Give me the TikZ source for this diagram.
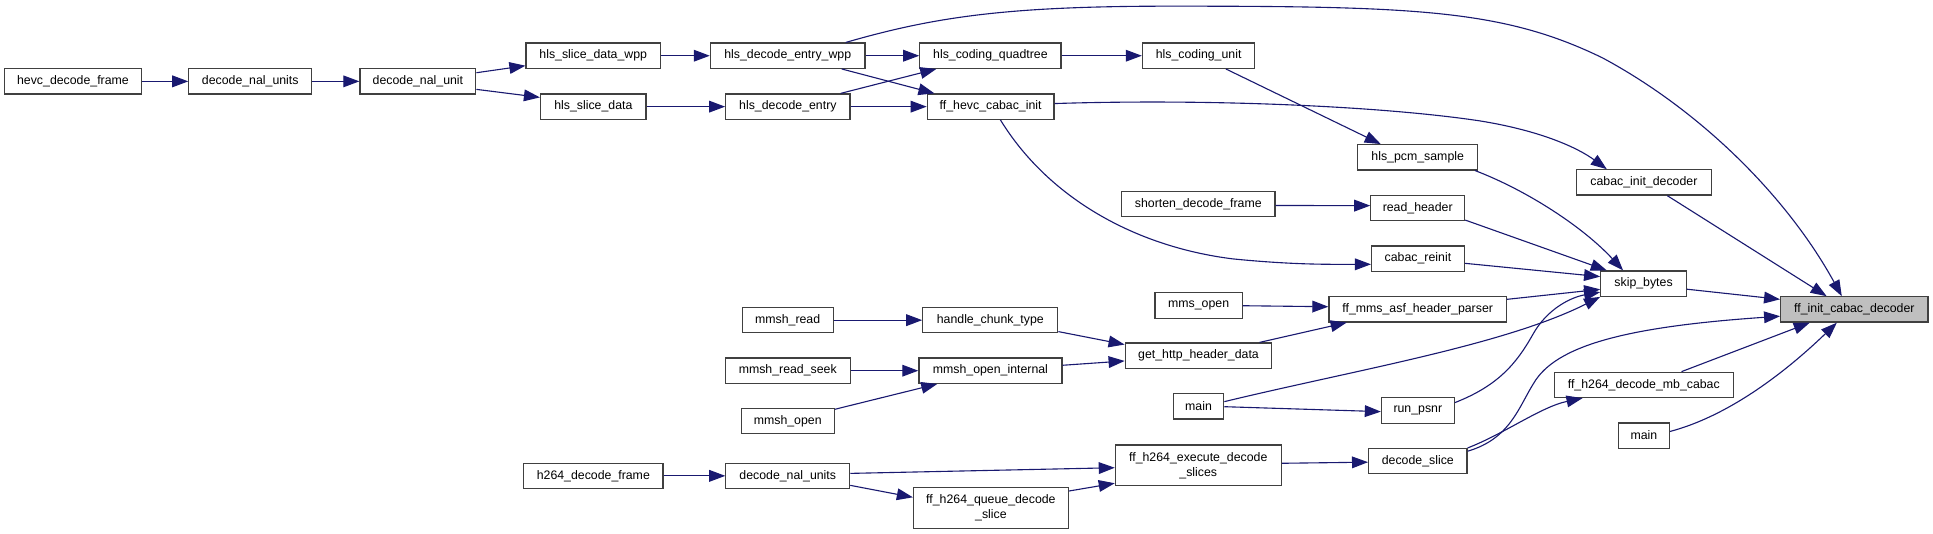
\documentclass[tikz,border=0pt]{standalone}
\usepackage{fontspec}
\setmainfont{Liberation Sans}
\usetikzlibrary{arrows.meta}
\definecolor{edgec}{HTML}{191970}
\definecolor{boxc}{HTML}{404040}
\definecolor{hlc}{HTML}{BFBFBF}
\tikzset{
  box/.style={draw=boxc, line width=1pt, fill=white, inner sep=0pt, minimum height=20.5pt, font=\fontsize{10}{12}\selectfont, align=center},
  twoline/.style={box, minimum height=33pt},
  hl/.style={box, fill=hlc},
  call/.style={draw=edgec, line width=0.9pt, arrows={-Triangle[length=13pt,width=9.5pt,fill=edgec]}},
}
\begin{document}
\begin{tikzpicture}[x=1pt,y=-1pt]
\useasboundingbox[fill=white] (0,0) rectangle (1568,433);
% nodes
\node[box,minimum width=111pt] (hdf) at (59.2,66) {hevc\_decode\_frame};
\node[box,minimum width=99.6pt] (dnus) at (203,66) {decode\_nal\_units};
\node[box,minimum width=94pt] (dnu) at (339,66) {decode\_nal\_unit};
\node[box,minimum width=109pt] (hsdw) at (481.2,45.2) {hls\_slice\_data\_wpp};
\node[box,minimum width=85.6pt] (hsd) at (481.3,86.5) {hls\_slice\_data};
\node[box,minimum width=125.5pt] (hdew) at (639,45.2) {hls\_decode\_entry\_wpp};
\node[box,minimum width=100.8pt] (hde) at (639.1,86.5) {hls\_decode\_entry};
\node[box,minimum width=114.5pt] (hcq) at (803.4,45.2) {hls\_coding\_quadtree};
\node[box,minimum width=102.8pt] (fhci) at (803.6,86.5) {ff\_hevc\_cabac\_init};
\node[box,minimum width=91.2pt] (hcu) at (972.3,45.2) {hls\_coding\_unit};
\node[box,minimum width=97.3pt] (hps) at (1150,127.6) {hls\_pcm\_sample};
\node[box,minimum width=109.4pt] (cid) at (1333.5,148) {cabac\_init\_decoder};
\node[box,minimum width=124.3pt] (sdf) at (972,165.5) {shorten\_decode\_frame};
\node[box,minimum width=76pt] (rh) at (1150,168.9) {read\_header};
\node[box,minimum width=75.2pt] (cr) at (1150.2,209.8) {cabac\_reinit};
\node[box,minimum width=69.5pt] (sb) at (1333.2,230.1) {skip\_bytes};
\node[hl,minimum width=119.5pt] (fic) at (1504.2,251) {ff\_init\_cabac\_decoder};
\node[box,minimum width=70.8pt] (mo) at (972.3,247.8) {mms\_open};
\node[box,minimum width=144pt] (fmahp) at (1150,250.9) {ff\_mms\_asf\_header\_parser};
\node[box,minimum width=73.8pt] (mr) at (638.9,259.7) {mmsh\_read};
\node[box,minimum width=109.5pt] (hct) at (803.3,259.7) {handle\_chunk\_type};
\node[box,minimum width=118.9pt] (ghhd) at (972.2,288.5) {get\_http\_header\_data};
\node[box,minimum width=101.5pt] (mrs) at (639,300.7) {mmsh\_read\_seek};
\node[box,minimum width=116pt] (moi) at (803.4,300.7) {mmsh\_open\_internal};
\node[box,minimum width=40.9pt] (mainA) at (972.2,329.6) {main};
\node[box,minimum width=59pt] (rp) at (1150.1,333) {run\_psnr};
\node[box,minimum width=145pt] (fhdmc) at (1333.4,312.2) {ff\_h264\_decode\_mb\_cabac};
\node[box,minimum width=41.3pt] (mainB) at (1333.5,353.3) {main};
\node[box,minimum width=75.5pt] (mopen) at (639,341.5) {mmsh\_open};
\node[box,minimum width=113pt] (h2df) at (481.3,386) {h264\_decode\_frame};
\node[box,minimum width=100.4pt] (dnub) at (639,386) {decode\_nal\_units};
\node[twoline,minimum width=134.5pt] (fheds) at (972,377.5) {ff\_h264\_execute\_decode\\\_slices};
\node[box,minimum width=79.8pt] (ds) at (1150.1,374.1) {decode\_slice};
\node[twoline,minimum width=125.6pt] (fhqds) at (803.8,412) {ff\_h264\_queue\_decode\\\_slice};
% edges
\draw[call] (hdf) -- (dnus);
\draw[call] (dnus) -- (dnu);
\draw[call] (dnu.east |- 0,59) -- (hsdw.west |- 0,53.3);
\draw[call] (dnu.east |- 0,72.5) -- (hsd.west |- 0,79);
\draw[call] (hsdw) -- (hdew);
\draw[call] (hsd) -- (hde);
\draw[call] (hdew) -- (hcq);
\draw[call] (hdew.south -| 682.8,0) -- (fhci.north -| 758,0);
\draw[call] (hde.north -| 681.9,0) -- (hcq.south -| 759.5,0);
\draw[call] (hde) -- (fhci);
\draw[call] (hdew.north -| 686,0) .. controls (760,13) and (820,5) .. (950,5) .. controls (1150,5) and (1220,8) .. (1300,47) .. controls (1380,90) and (1450,160) .. (fic.north -| 1494,0);
\draw[call] (hcq) -- (hcu);
\draw[call] (hcu.south -| 994.4,0) -- (hps.north -| 1120,0);
\draw[call] (fhci.east |- 0,84) .. controls (980,80) and (1120,86) .. (1200,98) .. controls (1250,106) and (1280,120) .. (cid.north -| 1303.4,0);
\draw[call] (fhci.south -| 811.5,0) .. controls (850,160) and (920,200) .. (1000,210) .. controls (1050,215) and (1080,214.4) .. (cr.west |- 0,214.4);
\draw[call] (hps.south -| 1196.5,0) .. controls (1240,155) and (1285,185) .. (sb.north -| 1316.6,0);
\draw[call] (cid.south -| 1352.5,0) -- (fic.north -| 1481.7,0);
\draw[call] (sdf.east |- 0,166.7) -- (rh.west |- 0,166.8);
\draw[call] (rh.east |- 0,178.5) -- (sb.north -| 1303.4,0);
\draw[call] (cr.east |- 0,213.6) -- (sb.west |- 0,224.4);
\draw[call] (sb.east |- 0,234.6) -- (fic.west |- 0,242.8);
\draw[call] (mo.east |- 0,248) -- (fmahp.west |- 0,248.8);
\draw[call] (fmahp.east |- 0,242.8) -- (sb.west |- 0,234.7);
\draw[call] (mr) -- (hct);
\draw[call] (hct.east |- 0,269) -- (ghhd.west |- 0,279.5);
\draw[call] (mrs) -- (moi);
\draw[call] (mopen.east |- 0,332) -- (moi.south -| 760.3,0);
\draw[call] (moi.east |- 0,296.3) -- (ghhd.west |- 0,292.8);
\draw[call] (ghhd.north -| 1021.7,0) -- (fmahp.south -| 1092.4,0);
\draw[call] (mainA.east |- 0,325.8) .. controls (1100,300) and (1220,280) .. (sb.south west);
\draw[call] (mainA.east |- 0,329.9) -- (rp.west |- 0,333.9);
\draw[call] (rp.east |- 0,326.6) .. controls (1215,313) and (1230,295) .. (1243,272) .. controls (1255,250) and (1275,241) .. (sb.west |- 0,237);
\draw[call] (ds.east |- 0,366) .. controls (1225,356) and (1232,330) .. (1244,311) .. controls (1262,280) and (1320,265) .. (fic.west |- 0,256.5);
\draw[call] (ds.north east) .. controls (1220,352) and (1250,330) .. (fhdmc.south -| 1283.7,0);
\draw[call] (fhdmc.north -| 1364,0) -- (fic.south -| 1468,0);
\draw[call] (mainB.east |- 0,350) .. controls (1400,338) and (1445,305) .. (fic.south -| 1490,0);
\draw[call] (h2df) -- (dnub);
\draw[call] (dnub.east |- 0,384) -- (fheds.west |- 0,379.4);
\draw[call] (dnub.east |- 0,393.7) -- (fhqds.west |- 0,403.4);
\draw[call] (fhqds.east |- 0,398.3) -- (fheds.west |- 0,392);
\draw[call] (fheds.east |- 0,375.8) -- (ds.west |- 0,374.9);
\end{tikzpicture}
\end{document}
